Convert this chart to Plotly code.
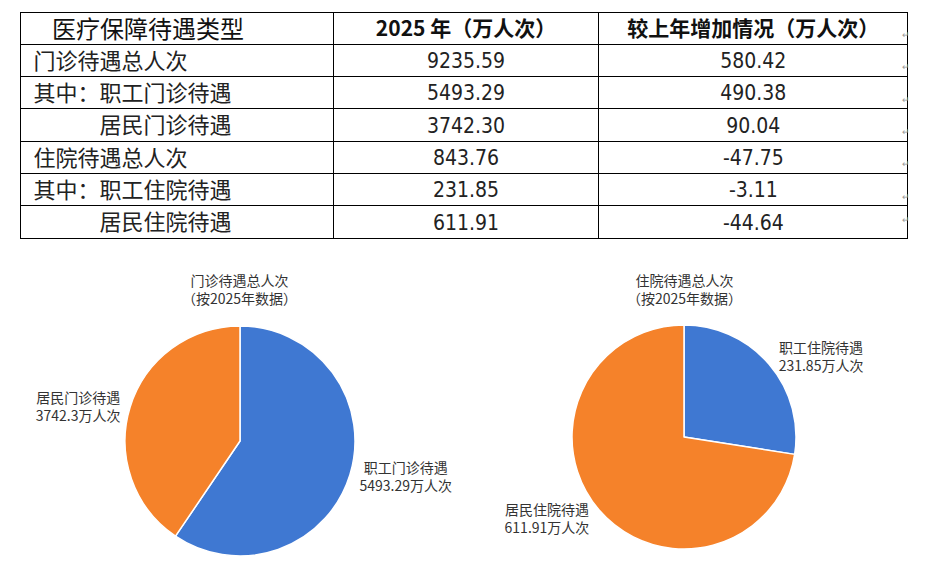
import plotly.graph_objects as go

# table data (万人次)
header = ["\u3000医疗保障待遇类型", "2025 年（万人次）", "较上年增加情况（万人次）"]
row_names = ["\u2005门诊待遇总人次", "\u2005其中：职工门诊待遇", "\u2005\u3000\u3000\u3000居民门诊待遇",
             "\u2005住院待遇总人次", "\u2005其中：职工住院待遇", "\u2005\u3000\u3000\u3000居民住院待遇"]
values_2025 = ["9235.59", "5493.29", "3742.30", "843.76", "231.85", "611.91"]
changes = ["580.42", "490.38", "90.04", "-47.75", "-3.11", "-44.64"]

# pie data
outpatient_labels = ["职工门诊待遇", "居民门诊待遇"]
outpatient_values = [5493.29, 3742.3]
inpatient_labels = ["职工住院待遇", "居民住院待遇"]
inpatient_values = [231.85, 611.91]

# the page body has an 8px margin, so the figure is drawn 8px in from the window corner
OFF = 8
W, H = 910, 560
BLUE = "#3f78d2"
ORANGE = "#f5822a"
CJK = "Noto Sans CJK SC"
NUM = "Liberation Sans Narrow, DejaVu Sans Condensed, Liberation Serif"
ROW_H = 32.3


def px(x0, x1):
    return [(x0 - OFF) / W, (x1 - OFF) / W]


def py(y0, y1):
    # window pixel rows, top-down -> paper coords
    return [1 - (y1 - OFF) / H, 1 - (y0 - OFF) / H]


def pt(x, y):
    return (x - OFF) / W, 1 - (y - OFF) / H


fig = go.Figure()

fig.add_trace(go.Table(
    domain=dict(x=px(20, 908), y=py(12, 255)),
    columnwidth=[313, 265, 309],
    header=dict(
        values=header,
        align=["left", "center", "center"],
        height=ROW_H,
        fill_color="white",
        line=dict(color="black", width=1),
        font=dict(family=CJK, size=[24, 21, 21], color="#111", weight=[400, 700, 700]),
    ),
    cells=dict(
        values=[row_names, values_2025, changes],
        align=["left", "center", "center"],
        height=ROW_H,
        fill_color="white",
        line=dict(color="black", width=1),
        font=dict(family=[CJK, NUM, NUM], size=[22, 21, 21], color="#222"),
    ),
))

pie_font = dict(family=CJK, size=14, color="#333")

fig.add_trace(go.Pie(
    labels=outpatient_labels, values=outpatient_values,
    domain=dict(x=px(240 - 115, 240 + 115), y=py(441 - 115, 441 + 115)),
    sort=False, direction="clockwise", rotation=0,
    marker=dict(colors=[BLUE, ORANGE], line=dict(color="white", width=1.5)),
    textposition="outside", texttemplate="%{label}<br>%{value:.2~f}万人次",
    outsidetextfont=pie_font, showlegend=False, hoverinfo="label+value",
))

fig.add_trace(go.Pie(
    labels=inpatient_labels, values=inpatient_values,
    domain=dict(x=px(684 - 112, 684 + 112), y=py(437 - 112, 437 + 112)),
    sort=False, direction="clockwise", rotation=0,
    marker=dict(colors=[BLUE, ORANGE], line=dict(color="white", width=1.5)),
    textposition="outside", texttemplate="%{label}<br>%{value:.2~f}万人次",
    outsidetextfont=pie_font, showlegend=False, hoverinfo="label+value",
))

for cx, title in [(240, "门诊待遇总人次"), (684, "住院待遇总人次")]:
    ax, ay = pt(cx, 289)
    fig.add_annotation(
        x=ax, y=ay, xref="paper", yref="paper",
        xanchor="center", yanchor="middle",
        text=title + "<br>（按2025年数据）", showarrow=False,
        font=dict(family=CJK, size=14, color="#333"),
    )

# paragraph marks beyond the right edge of the table
for i in range(7):
    ax, ay = pt(912, 26 + ROW_H * i)
    fig.add_annotation(
        x=ax, y=ay, xref="paper", yref="paper",
        text="↵", showarrow=False, font=dict(size=9, color="#999"),
    )

fig.update_layout(
    width=W, height=H,
    margin=dict(l=0, r=0, t=0, b=0),
    paper_bgcolor="white",
    plot_bgcolor="white",
)

fig.write_html("out.html")
